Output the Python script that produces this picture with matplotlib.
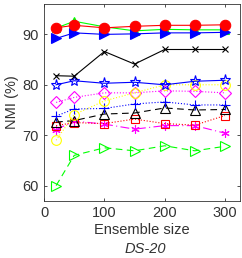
import matplotlib
matplotlib.use("Agg")
import matplotlib.pyplot as plt

plt.rcParams['font.family'] = ['Liberation Sans', 'DejaVu Sans']

ensemble_sizes = [20, 50, 100, 150, 200, 250, 300]

green_tri = [91.25, 92.6, 91.5, 90.7, 91.0, 90.9, 90.9]
blue_rtri = [89.2, 90.3, 90.0, 90.1, 90.3, 90.3, 90.4]
red_circle = [91.3, 91.8, 91.3, 91.6, 91.8, 91.8, 91.9]
black_x = [81.8, 81.7, 86.6, 84.1, 87.0, 87.0, 87.0]
blue_star = [80.0, 80.8, 80.3, 80.5, 80.0, 80.7, 80.9]
yellow_circle = [69.0, 74.1, 76.8, 78.4, 80.0, 80.0, 80.0]
magenta_diamond = [76.5, 77.5, 78.4, 78.4, 78.8, 78.7, 78.4]
blue_plus = [73.8, 75.2, 75.3, 76.2, 76.6, 76.0, 76.0]
black_tri = [72.6, 72.9, 74.2, 74.4, 75.4, 75.0, 75.1]
red_square = [71.9, 72.5, 72.3, 73.2, 72.3, 72.0, 73.9]
magenta_ast = [71.1, 72.8, 72.2, 71.2, 71.9, 71.9, 70.4]
green_rtri = [60.0, 66.0, 67.5, 66.9, 67.9, 66.9, 67.8]

y_ticks = [60, 70, 80, 90]
x_ticks = [0, 100, 200, 300]

fig = plt.figure(figsize=(2.42, 2.58), dpi=100)
ax = fig.add_axes([0.182, 0.222, 0.810, 0.762])

lw = 0.8
x = ensemble_sizes
ax.plot(x, green_rtri, color=(0, 1, 0), ls=(0, (6, 4)), lw=lw, marker='>', ms=7, mfc='none', mew=0.8)
ax.plot(x, magenta_ast, color=(1, 0, 1), ls=(0, (8, 3, 1, 3)), lw=lw, marker=(6, 2, 0), ms=6, mew=0.8)
ax.plot(x, red_square, color=(1, 0, 0), ls=':', lw=lw, marker='s', ms=6, mfc='none', mew=0.8)
ax.plot(x, black_tri, color='k', ls=(0, (6, 4)), lw=lw, marker='^', ms=7, mfc='none', mew=0.8)
ax.plot(x, blue_plus, color=(0, 0, 1), ls=':', lw=lw, marker='+', ms=7, mew=0.8)
ax.plot(x, magenta_diamond, color=(1, 0, 1), ls=':', lw=lw, marker='D', ms=6, mfc='none', mew=0.8)
ax.plot(x, yellow_circle, color=(1, 1, 0), ls=':', lw=lw, marker='o', ms=7, mfc='none', mew=0.8)
ax.plot(x, blue_star, color=(0, 0, 1), ls='-', lw=lw, marker='*', ms=8, mfc='none', mew=0.8)
ax.plot(x, black_x, color='k', ls='-', lw=lw, marker='x', ms=5, mew=0.8)
ax.plot(x, green_tri, color=(0, 1, 0), ls='-', lw=lw, marker='^', ms=6, mew=0.8)
ax.plot(x, blue_rtri, color=(0, 0, 1), ls='-', lw=lw, marker='>', ms=7.5, mew=0.8)
ax.plot(x, red_circle, color=(1, 0, 0), ls='-', lw=lw, marker='o', ms=7.5, mew=0.8)

ax.set_xlim(0, 325)
ax.set_ylim(57, 96)
ax.set_xticks(x_ticks)
ax.set_yticks(y_ticks)
ax.tick_params(direction='in', length=2.5, width=0.6, colors='#333333', labelsize=10.5,
               top=True, right=True, labelcolor='#333333', pad=4)
for s in ax.spines.values():
    s.set_color('#333333')
    s.set_linewidth(0.6)

ax.set_ylabel('NMI (%)', fontsize=10.5, color='#333333', labelpad=2)
ax.set_xlabel('Ensemble size', fontsize=10.5, color='#333333', labelpad=2)
fig.text(0.60, 0.018, 'DS-20', fontsize=10.5, style='italic', color='#333333', ha='center')

fig.savefig('out.png', dpi=100)
